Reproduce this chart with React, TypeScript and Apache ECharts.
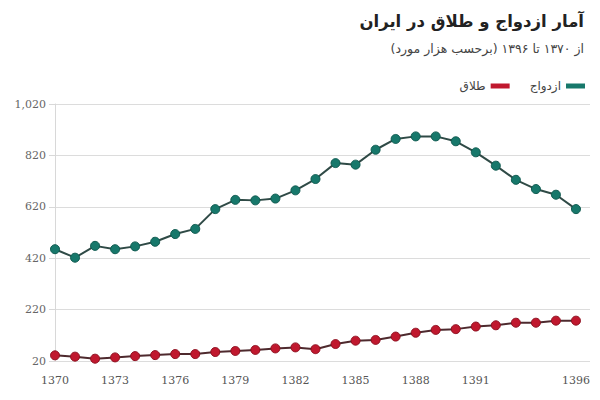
import React, { useEffect, useRef } from "react";
import * as echarts from "echarts";

const years = [1370,1371,1372,1373,1374,1375,1376,1377,1378,1379,1380,1381,1382,1383,1384,1385,1386,1387,1388,1389,1390,1391,1392,1393,1394,1395,1396];
const marriages = [455,422,468,455,466,484,514,534,611,647,645,652,684,728,790,784,842,884,894,894,875,832,780,725,689,667,611];
const divorces = [42,37,29,34,39,43,47,47,55,59,63,69,73,66,86,99,102,115,130,141,144,154,159,169,169,177,177];
const xTickLabels = [1370,1373,1376,1379,1382,1385,1388,1391,1396];
const yTicks = [20,220,420,620,820,1020];

const titleText = "آمار ازدواج و طلاق در ایران";
const subtitleText = "از ۱۳۷۰ تا ۱۳۹۶ (برحسب هزار مورد)";
const marriageName = "ازدواج";
const divorceName = "طلاق";

export default function App() {
  const ref = useRef<HTMLDivElement>(null);
  useEffect(() => {
    if (!ref.current) return;
    const chart = echarts.init(ref.current, null, { renderer: "svg" });
    const faFont = "'DejaVu Sans', sans-serif";
    const numFont = "'DejaVu Serif', 'Liberation Serif', serif";
    chart.setOption({
      animation: false,
      backgroundColor: "#ffffff",
      title: [
        {
          text: titleText,
          right: 11,
          top: 8,
          textStyle: { fontFamily: faFont, fontSize: 16.5, fontWeight: "bold", color: "#222" },
        },
        {
          text: subtitleText,
          right: 11,
          top: 37,
          textStyle: { fontFamily: faFont, fontSize: 12.5, fontWeight: "normal", color: "#444" },
        },
      ],
      legend: {
        right: 10,
        top: 75,
        align: "right",
        icon: "rect",
        itemWidth: 19,
        itemHeight: 5,
        itemGap: 20,
        data: [divorceName, marriageName],
        itemStyle: { borderWidth: 0 },
        textStyle: { fontFamily: faFont, fontSize: 12, color: "#444" },
      },
      grid: { left: 55, right: 10, top: 104, bottom: 39 },
      xAxis: {
        type: "value",
        min: 1370,
        max: 1396.7,
        interval: 1,
        splitLine: { show: false },
        axisLine: { show: false },
        axisTick: { show: false },
        axisLabel: {
          margin: 14,
          fontFamily: numFont,
          fontSize: 11,
          color: "#555",
          showMaxLabel: false,
          formatter: (v: number) => (xTickLabels.includes(v) ? String(v) : ""),
        },
      },
      yAxis: {
        type: "value",
        min: yTicks[0],
        max: yTicks[yTicks.length - 1],
        interval: 200,
        axisLine: { show: true, lineStyle: { color: "#d8d8d8" } },
        axisTick: { show: true, length: 6, lineStyle: { color: "#d8d8d8" } },
        splitLine: { show: true, lineStyle: { color: "#dcdcdc", width: 1 } },
        axisLabel: {
          margin: 9,
          fontFamily: numFont,
          fontSize: 11,
          color: "#666",
          formatter: (v: number) => v.toLocaleString("en-US"),
        },
      },
      series: [
        {
          name: marriageName,
          type: "line",
          data: years.map((y, i) => [y, marriages[i]]),
          symbol: "circle",
          symbolSize: 9,
          color: "#138a76",
          lineStyle: { color: "#2f4a46", width: 2 },
          itemStyle: { color: "#17786b", borderColor: "#0f5a50", borderWidth: 1 },
        },
        {
          name: divorceName,
          type: "line",
          data: years.map((y, i) => [y, divorces[i]]),
          symbol: "circle",
          symbolSize: 9,
          color: "#c8102e",
          lineStyle: { color: "#4e2a2e", width: 2 },
          itemStyle: { color: "#c0182e", borderColor: "#8e1020", borderWidth: 1 },
        },
      ],
    });
    return () => chart.dispose();
  }, []);
  return <div ref={ref} style={{ width: 600, height: 400, position: "fixed", left: 0, top: 0, background: "#fff" }} />;
}
